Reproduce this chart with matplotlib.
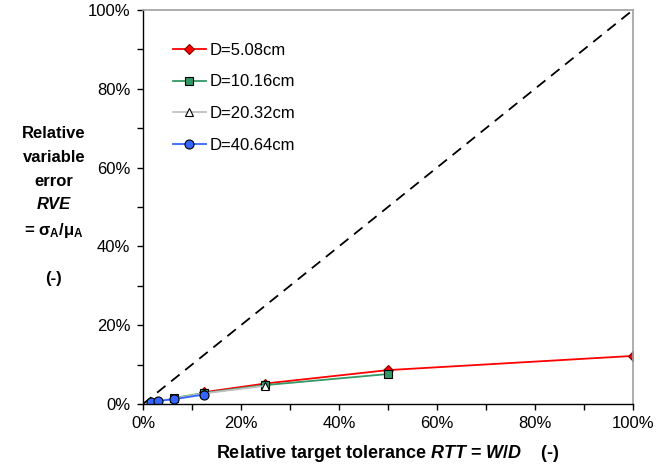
import numpy as np
import matplotlib
matplotlib.use('Agg')
import matplotlib.pyplot as plt
from matplotlib.ticker import PercentFormatter, MultipleLocator

plt.rcParams['font.family'] = ['Liberation Sans', 'DejaVu Sans']
plt.rcParams['mathtext.fontset'] = 'custom'
plt.rcParams['mathtext.rm'] = 'Liberation Sans:bold'
plt.rcParams['mathtext.bf'] = 'Liberation Sans:bold'
plt.rcParams['mathtext.it'] = 'Liberation Sans:italic:bold'

# RTT = W/D values and RVE values (fractions)
rtt_508 = [0.125, 0.25, 0.50, 1.00]
rve_508 = [0.030, 0.052, 0.086, 0.122]
rtt_1016 = [0.0625, 0.125, 0.25, 0.50]
rve_1016 = [0.015, 0.028, 0.048, 0.076]
rtt_2032 = [0.03125, 0.0625, 0.125, 0.25]
rve_2032 = [0.008, 0.014, 0.027, 0.046]
rtt_4064 = [0.015625, 0.03125, 0.0625, 0.125]
rve_4064 = [0.004, 0.008, 0.012, 0.024]

fig = plt.figure(figsize=(6.7, 4.74), dpi=100)
ax = fig.add_axes([0.2134, 0.1477, 0.7314, 0.8313])

ax.plot([0, 1], [0, 1], color='black', ls=(0, (6, 4)), lw=1.3, zorder=1)

ax.plot(rtt_508, rve_508, color='#ff0000', lw=1.3, marker='D', ms=5.5,
        mfc='#ff0000', mec='#800000', mew=0.8, label='D=5.08cm')
ax.plot(rtt_1016, rve_1016, color='#339966', lw=1.3, marker='s', ms=6,
        mfc='#339966', mec='black', mew=0.8, label='D=10.16cm')
ax.plot(rtt_2032, rve_2032, color='#c0c0c0', lw=1.3, marker='^', ms=6,
        mfc='white', mec='black', mew=0.8, label='D=20.32cm')
ax.plot(rtt_4064, rve_4064, color='#3366ff', lw=1.3, marker='o', ms=6.5,
        mfc='#3366ff', mec='black', mew=0.8, label='D=40.64cm')

ax.set_xlim(0, 1)
ax.set_ylim(0, 1)
ax.xaxis.set_major_locator(MultipleLocator(0.2))
ax.xaxis.set_minor_locator(MultipleLocator(0.1))
ax.yaxis.set_major_locator(MultipleLocator(0.2))
ax.yaxis.set_minor_locator(MultipleLocator(0.1))
ax.xaxis.set_major_formatter(PercentFormatter(1.0, decimals=0))
ax.yaxis.set_major_formatter(PercentFormatter(1.0, decimals=0))
ax.tick_params(which='both', direction='out', length=4, width=1, labelsize=12, pad=5)

for s in ['left', 'bottom']:
    ax.spines[s].set_color('black')
    ax.spines[s].set_linewidth(1)
for s in ['top', 'right']:
    ax.spines[s].set_color('#a0a0a0')
    ax.spines[s].set_linewidth(1.2)

ax.set_xlabel(r'Relative target tolerance $\mathit{RTT}$ = $\mathit{W/D}$    (-)',
              fontsize=13, fontweight='bold', labelpad=8)

cx = 54 / 670
ylines = ['Relative', 'variable', 'error']
ys = [133, 157, 181]
for t, yy in zip(ylines, ys):
    fig.text(cx, 1 - yy / 474, t, ha='center', va='center', fontsize=12, fontweight='bold')
fig.text(cx, 1 - 205 / 474, 'RVE', ha='center', va='center', fontsize=12,
         fontweight='bold', style='italic')
fig.text(cx, 1 - 230 / 474, r'= σ$_\mathbf{A}$/μ$_\mathbf{A}$', ha='center', va='center',
         fontsize=12, fontweight='bold')
fig.text(cx, 1 - 278 / 474, '(-)', ha='center', va='center', fontsize=12, fontweight='bold')

leg = ax.legend(loc='upper left', bbox_to_anchor=(0.03, 0.955), frameon=False,
                fontsize=12, handlelength=2.0, labelspacing=1.0, handletextpad=0.2)

fig.savefig('out.png', dpi=100)
